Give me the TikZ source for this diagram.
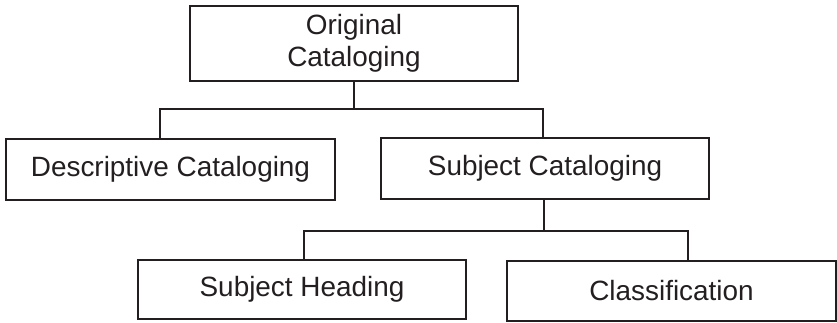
\documentclass[tikz,border=0pt]{standalone}
\usepackage{fontspec}
\setmainfont{Liberation Sans}
\definecolor{ink}{HTML}{231F20}
\begin{document}
\begin{tikzpicture}[x=1pt,y=-1pt,
  catbox/.style={draw=ink, line width=2pt, rectangle, inner sep=0pt, outer sep=0pt,
    text=ink, align=center, font=\fontsize{27.9}{32}\selectfont},
  link/.style={draw=ink, line width=1.3pt}]
\useasboundingbox (0,0) rectangle (837,322);

% catalogue boxes
\node[catbox, minimum width=328pt, minimum height=75pt] (orig) at (354,43.5) {Original\\Cataloging};
\node[catbox, minimum width=329pt, minimum height=61pt] (desc) at (170.5,169.5) {Descriptive Cataloging};
\node[catbox, minimum width=328pt, minimum height=61pt] (subj) at (545,168.5) {Subject Cataloging};
\node[catbox, minimum width=328pt, minimum height=59pt] (head) at (302,289.5) {Subject Heading};
\node[catbox, minimum width=329pt, minimum height=60pt] (cls) at (671.5,290.5) {Classification};

% junction points of the tree
\coordinate (j1) at (354,109);
\coordinate (j1L) at (160,109);
\coordinate (j1R) at (543,109);
\coordinate (j2) at (544,231);
\coordinate (j2L) at (304,231);
\coordinate (j2R) at (688,231);

% connectors
\draw[link] (orig.south) -- (j1);
\draw[link] (desc.north -| j1L) -- (j1L) -- (j1R) -- (subj.north -| j1R);
\draw[link] (subj.south -| j2) -- (j2);
\draw[link] (head.north -| j2L) -- (j2L) -- (j2R) -- (cls.north -| j2R);
\end{tikzpicture}
\end{document}
